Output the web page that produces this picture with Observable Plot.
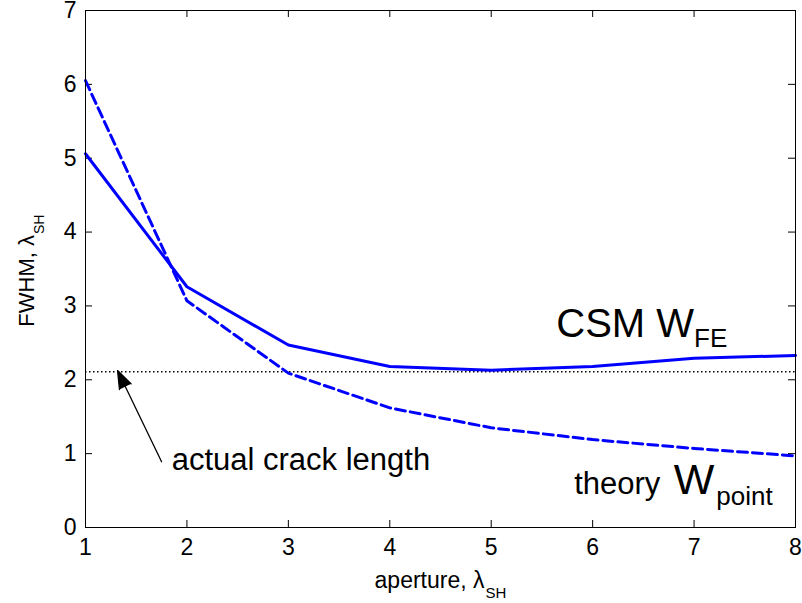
<!DOCTYPE html>
<html>
<head>
<meta charset="utf-8">
<script src="https://cdn.jsdelivr.net/npm/d3@7"></script>
<script src="https://cdn.jsdelivr.net/npm/@observablehq/plot@0.6"></script>
<style>
  html, body { margin: 0; padding: 0; background: #fff; }
</style>
</head>
<body>
<div id="chart"></div>
<script>
// FWHM of the crack image versus aperture, both in shear wavelengths
const aperture = [1, 2, 3, 4, 5, 6, 7, 8];
const csmFE = [5.06, 3.26, 2.47, 2.18, 2.13, 2.18, 2.29, 2.33];
const theoryPoint = [6.05, 3.07, 2.09, 1.62, 1.35, 1.19, 1.07, 0.97];
const crackLength = 2.11;

const xTicks = [1, 2, 3, 4, 5, 6, 7, 8];
const yTicks = [0, 1, 2, 3, 4, 5, 6, 7];

const csmRows = aperture.map((a, i) => ({a, w: csmFE[i]}));
const theoryRows = aperture.map((a, i) => ({a, w: theoryPoint[i]}));

const W = 802, H = 603;
const margin = {top: 10, right: 7, bottom: 76, left: 85};
const innerW = W - margin.left - margin.right;
const innerH = H - margin.top - margin.bottom;
const tickLen = 7;

const font = "'Liberation Sans', Arial, Helvetica, sans-serif";
const tickStyle = {stroke: "black", strokeWidth: 1};

const chart = Plot.plot({
  width: W,
  height: H,
  marginLeft: margin.left,
  marginRight: margin.right,
  marginTop: margin.top,
  marginBottom: margin.bottom,
  style: {fontFamily: font, color: "black", background: "white", overflow: "visible"},
  x: {domain: [1, 8]},
  y: {domain: [0, 7]},
  marks: [
    // tick labels
    Plot.axisX({ticks: xTicks, tickFormat: "d", tickSize: 0, tickPadding: 11, fontSize: 23, label: null}),
    Plot.axisY({ticks: yTicks, tickFormat: "d", tickSize: 0, tickPadding: 9, fontSize: 23, label: null}),
    // inward ticks on all four sides of the box
    Plot.tickX(xTicks, {x: d => d, insetTop: innerH - tickLen, ...tickStyle}),
    Plot.tickX(xTicks, {x: d => d, insetBottom: innerH - tickLen, ...tickStyle}),
    Plot.tickY(yTicks, {y: d => d, insetRight: innerW - tickLen, ...tickStyle}),
    Plot.tickY(yTicks, {y: d => d, insetLeft: innerW - tickLen, ...tickStyle}),
    // actual crack length reference
    Plot.ruleY([crackLength], {x1: 1, x2: 8, stroke: "black", strokeWidth: 1.5, strokeDasharray: "1.5,2.5"}),
    // curves
    Plot.line(theoryRows, {x: "a", y: "w", stroke: "#0000ff", strokeWidth: 3, strokeDasharray: "10,5"}),
    Plot.line(csmRows, {x: "a", y: "w", stroke: "#0000ff", strokeWidth: 3}),
    Plot.frame({stroke: "black", strokeWidth: 1}),
    // annotation arrow pointing at the crack length line
    Plot.arrow([{x1: 1.75, y1: 0.89, x2: 1.316, y2: 2.125}], {
      x1: "x1", y1: "y1", x2: "x2", y2: "y2",
      stroke: "black", fill: "black", strokeWidth: 1.3, headLength: 22, headAngle: 40
    }),
    Plot.text(["actual crack length"], {x: 1.85, y: 0.785, text: d => d, textAnchor: "start", lineAnchor: "bottom", fontSize: 31}),
    // curve labels
    Plot.text(["CSM W"], {x: 7, y: 2.58, text: d => d, textAnchor: "end", lineAnchor: "bottom", fontSize: 40}),
    Plot.text(["FE"], {x: 7, y: 2.58, text: d => d, textAnchor: "start", lineAnchor: "bottom", dy: 10, fontSize: 26}),
    Plot.text(["theory"], {x: 7.2, y: 0.46, text: d => d, textAnchor: "end", lineAnchor: "bottom", dx: -54, fontSize: 31}),
    Plot.text(["W"], {x: 7.2, y: 0.46, text: d => d, textAnchor: "end", lineAnchor: "bottom", fontSize: 43}),
    Plot.text(["point"], {x: 7.2, y: 0.46, text: d => d, textAnchor: "start", lineAnchor: "bottom", dx: 2, dy: 11, fontSize: 26}),
    // axis titles
    Plot.text(["aperture, λ"], {frameAnchor: "bottom", text: d => d, textAnchor: "end", lineAnchor: "bottom", dx: 44, dy: 60, fontSize: 23}),
    Plot.text(["SH"], {frameAnchor: "bottom", text: d => d, textAnchor: "start", lineAnchor: "bottom", dx: 45, dy: 70, fontSize: 15}),
    Plot.text(["FWHM, λ"], {frameAnchor: "left", text: d => d, rotate: -90, textAnchor: "end", lineAnchor: "bottom", dx: -52, dy: -34, fontSize: 22}),
    Plot.text(["SH"], {frameAnchor: "left", text: d => d, rotate: -90, textAnchor: "start", lineAnchor: "bottom", dx: -42, dy: -35, fontSize: 14})
  ]
});

document.getElementById("chart").appendChild(chart);
</script>
</body>
</html>
